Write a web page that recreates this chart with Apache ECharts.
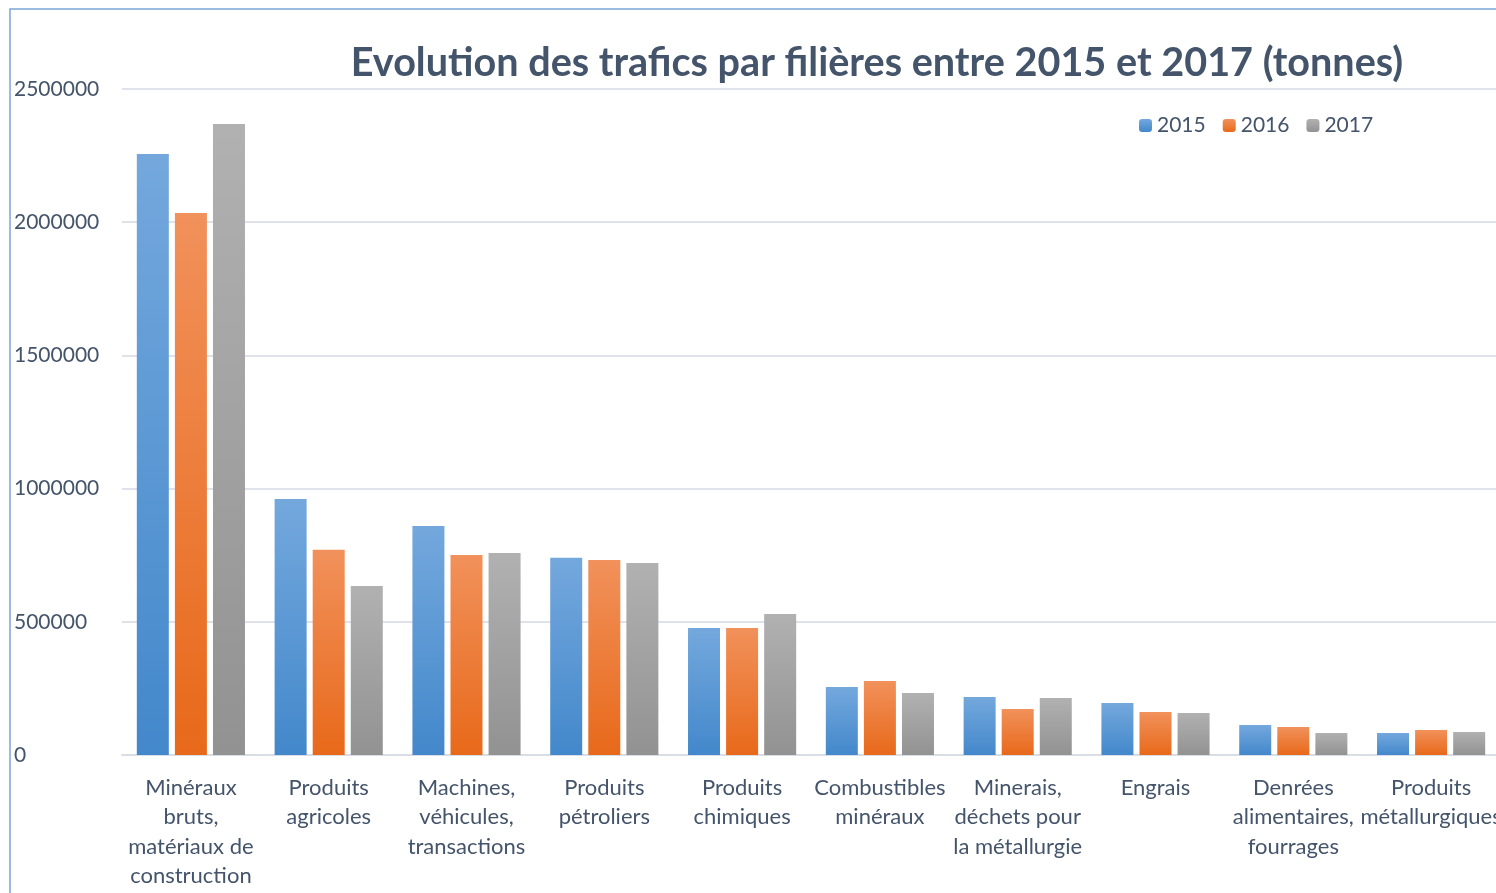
<!DOCTYPE html>
<html>
<head>
<meta charset="utf-8">
<script src="https://cdn.jsdelivr.net/npm/echarts@6/dist/echarts.min.js"></script>
<style>
  html, body { margin: 0; padding: 0; background: #fff; }
  #chart { width: 1496px; height: 893px; }
</style>
</head>
<body>
<div id="chart"></div>
<script>
const categories = [
    'Minéraux\nbruts,\nmatériaux de\nconstruction',
    'Produits\nagricoles',
    'Machines,\nvéhicules,\ntransactions',
    'Produits\npétroliers',
    'Produits\nchimiques',
    'Combustibles\nminéraux',
    'Minerais,\ndéchets pour\nla métallurgie',
    'Engrais',
    'Denrées\nalimentaires,\nfourrages',
    'Produits\nmétallurgiques',
];
const values2015 = [2256000, 961000, 860000, 740000, 477000, 255000, 218000, 195000, 113000, 83000];
const values2016 = [2035000, 770000, 751000, 732000, 477000, 278000, 173000, 161000, 105000, 94000];
const values2017 = [2369000, 634000, 758000, 721000, 529000, 233000, 214000, 158000, 83000, 86000];
const yTicks = [0, 500000, 1000000, 1500000, 2000000, 2500000];

const textColor = '#44546a';
const fontFamily = 'Lato, "Noto Sans", sans-serif';

function grad(top, bottom) {
    return new echarts.graphic.LinearGradient(0, 0, 0, 1, [
        { offset: 0, color: top },
        { offset: 1, color: bottom },
    ]);
}

const chart = echarts.init(document.getElementById('chart'));

const option = {
    animation: false,
    textStyle: { fontFamily: fontFamily },
    title: {
        text: 'Evolution des trafics par filières entre 2015 et 2017 (tonnes)',
        left: 872,
        top: 38,
        textAlign: 'center',
        textStyle: {
            color: textColor,
            fontSize: 39.6,
            fontWeight: 'bold',
            fontFamily: fontFamily,
        },
    },
    legend: {
        left: 1134,
        top: 110,
        itemWidth: 13,
        itemHeight: 13,
        itemGap: 17,
        textStyle: { color: textColor, fontSize: 21 },
        data: ['2015', '2016', '2017'],
    },
    graphic: [
        {
            type: 'rect',
            shape: { x: 10, y: 9, width: 1600, height: 1000 },
            style: { fill: 'none', stroke: '#7aa7d8', lineWidth: 1.5 },
            silent: true,
        },
    ],
    grid: {
        left: 122,
        width: 1378,
        top: 89,
        bottom: 138,
        containLabel: false,
        outerBoundsMode: 'none',
    },
    xAxis: {
        type: 'category',
        data: categories,
        axisTick: { show: false },
        axisLine: { lineStyle: { color: '#d9dde6', width: 2 } },
        axisLabel: {
            color: textColor,
            fontSize: 22,
            lineHeight: 29.5,
            margin: 18,
            interval: 0,
            hideOverlap: false,
        },
    },
    yAxis: {
        type: 'value',
        min: yTicks[0],
        max: yTicks[yTicks.length - 1],
        interval: yTicks[1] - yTicks[0],
        axisLine: { show: false },
        axisTick: { show: false },
        splitLine: { lineStyle: { color: '#dfe2ea', width: 2 } },
        axisLabel: {
            color: textColor,
            fontSize: 21,
            align: 'left',
            margin: 108,
            formatter: (v) => String(v),
        },
    },
    series: [
        {
            name: '2015',
            type: 'bar',
            data: values2015,
            barWidth: 32,
            barGap: '19%',
            itemStyle: { color: grad('#74a8dd', '#4388cb') },
        },
        {
            name: '2016',
            type: 'bar',
            data: values2016,
            barWidth: 32,
            barGap: '19%',
            itemStyle: { color: grad('#f1915b', '#e8691a') },
        },
        {
            name: '2017',
            type: 'bar',
            data: values2017,
            barWidth: 32,
            barGap: '19%',
            itemStyle: { color: grad('#b1b1b1', '#929292') },
        },
    ],
};

chart.setOption(option);
</script>
</body>
</html>
